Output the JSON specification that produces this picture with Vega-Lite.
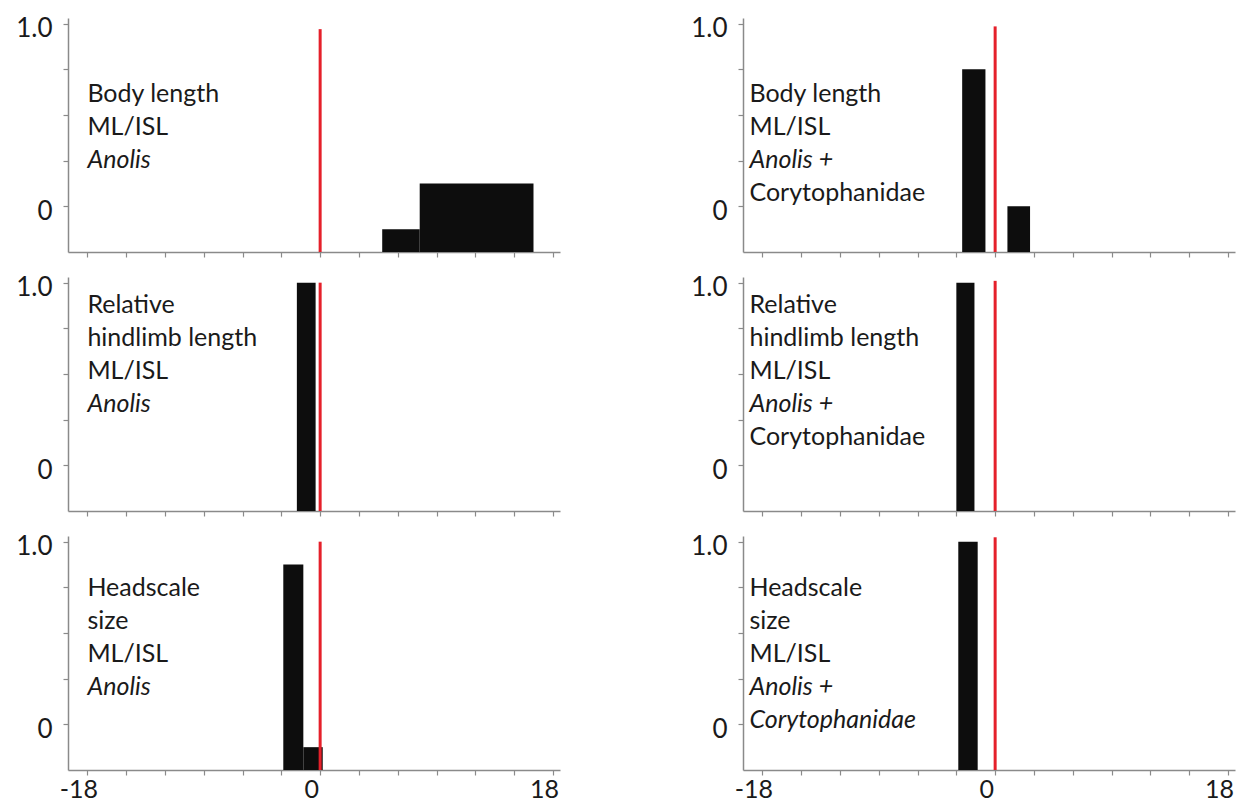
{
  "$schema": "https://vega.github.io/schema/vega-lite/v6.json",
  "background": "white",
  "padding": {"left": 15, "top": 15, "right": 5, "bottom": 0},
  "bounds": "flush",
  "columns": 2,
  "spacing": {"row": 25, "column": 183},
  "data": {
    "values": [
      {"panel": "A", "kind": "bar", "start": 4.8, "end": 7.7, "p": -0.125},
      {"panel": "A", "kind": "bar", "start": 7.7, "end": 16.5, "p": 0.125},
      {"panel": "B", "kind": "bar", "start": -2.55, "end": -0.75, "p": 0.75},
      {"panel": "B", "kind": "bar", "start": 0.95, "end": 2.7, "p": 0.0},
      {"panel": "C", "kind": "bar", "start": -1.8, "end": -0.35, "p": 1.0},
      {"panel": "D", "kind": "bar", "start": -3.0, "end": -1.6, "p": 1.0},
      {"panel": "E", "kind": "bar", "start": -2.85, "end": -1.3, "p": 0.875},
      {"panel": "E", "kind": "bar", "start": -1.3, "end": 0.2, "p": -0.125},
      {"panel": "F", "kind": "bar", "start": -2.85, "end": -1.35, "p": 1.0},
      {"panel": "A", "kind": "obs", "observed": 0, "reach": 0.97},
      {"panel": "B", "kind": "obs", "observed": 0, "reach": 0.985},
      {"panel": "C", "kind": "obs", "observed": 0, "reach": 1.0},
      {"panel": "D", "kind": "obs", "observed": 0, "reach": 1.01},
      {"panel": "E", "kind": "obs", "observed": 0, "reach": 1.0},
      {"panel": "F", "kind": "obs", "observed": 0, "reach": 1.024},
      {"panel": "A", "kind": "note", "line": 0, "text": "Body length", "taxon": false},
      {"panel": "A", "kind": "note", "line": 1, "text": "ML/ISL", "taxon": false},
      {"panel": "A", "kind": "note", "line": 2, "text": "Anolis", "taxon": true},
      {"panel": "B", "kind": "note", "line": 0, "text": "Body length", "taxon": false},
      {"panel": "B", "kind": "note", "line": 1, "text": "ML/ISL", "taxon": false},
      {"panel": "B", "kind": "note", "line": 2, "text": "Anolis +", "taxon": true},
      {"panel": "B", "kind": "note", "line": 3, "text": "Corytophanidae", "taxon": false},
      {"panel": "C", "kind": "note", "line": 0, "text": "Relative", "taxon": false},
      {"panel": "C", "kind": "note", "line": 1, "text": "hindlimb length", "taxon": false},
      {"panel": "C", "kind": "note", "line": 2, "text": "ML/ISL", "taxon": false},
      {"panel": "C", "kind": "note", "line": 3, "text": "Anolis", "taxon": true},
      {"panel": "D", "kind": "note", "line": 0, "text": "Relative", "taxon": false},
      {"panel": "D", "kind": "note", "line": 1, "text": "hindlimb length", "taxon": false},
      {"panel": "D", "kind": "note", "line": 2, "text": "ML/ISL", "taxon": false},
      {"panel": "D", "kind": "note", "line": 3, "text": "Anolis +", "taxon": true},
      {"panel": "D", "kind": "note", "line": 4, "text": "Corytophanidae", "taxon": false},
      {"panel": "E", "kind": "note", "line": 0, "text": "Headscale", "taxon": false},
      {"panel": "E", "kind": "note", "line": 1, "text": "size", "taxon": false},
      {"panel": "E", "kind": "note", "line": 2, "text": "ML/ISL", "taxon": false},
      {"panel": "E", "kind": "note", "line": 3, "text": "Anolis", "taxon": true},
      {"panel": "F", "kind": "note", "line": 0, "text": "Headscale", "taxon": false},
      {"panel": "F", "kind": "note", "line": 1, "text": "size", "taxon": false},
      {"panel": "F", "kind": "note", "line": 2, "text": "ML/ISL", "taxon": false},
      {"panel": "F", "kind": "note", "line": 3, "text": "Anolis +", "taxon": true},
      {"panel": "F", "kind": "note", "line": 4, "text": "Corytophanidae", "taxon": true}
    ]
  },
  "concat": [
    {
      "width": 492, "height": 234,
      "transform": [{"filter": "datum.panel == 'A'"}],
      "layer": [
        {"transform": [{"filter": "datum.kind == 'bar'"}], "mark": {"type": "bar", "color": "#0d0d0d"},
         "encoding": {
           "x": {"field": "start", "type": "quantitative", "scale": {"domain": [-19.5, 18.55], "nice": false, "zero": false}, "axis": {"values": [-18,-15,-12,-9,-6,-3,0,3,6,9,12,15,18], "labels": false}},
           "x2": {"field": "end"},
           "y": {"field": "p", "type": "quantitative", "scale": {"domain": [-0.25, 1.031], "nice": false, "zero": false}, "axis": {"values": [0, 0.25, 0.5, 0.75, 1], "labelExpr": "datum.value == 1 ? '1.0' : datum.value == 0 ? '0' : ''"}},
           "y2": {"datum": -0.25}}},
        {"transform": [{"filter": "datum.kind == 'obs'"}], "mark": {"type": "rule", "color": "#e5202a", "strokeWidth": 3},
         "encoding": {"x": {"field": "observed", "type": "quantitative"}, "y": {"field": "reach", "type": "quantitative"}, "y2": {"datum": -0.25}}},
        {"transform": [{"filter": "datum.kind == 'note' && !datum.taxon"}], "mark": {"type": "text", "align": "left", "baseline": "alphabetic", "font": "Lato", "fontSize": 25, "color": "#1a1a1a", "dy": {"expr": "datum.line * 32.8"}},
         "encoding": {"x": {"datum": -18}, "y": {"datum": 0.57}, "text": {"field": "text"}}},
        {"transform": [{"filter": "datum.kind == 'note' && datum.taxon"}], "mark": {"type": "text", "align": "left", "baseline": "alphabetic", "font": "Lato", "fontSize": 25, "fontStyle": "italic", "color": "#1a1a1a", "dy": {"expr": "datum.line * 32.8"}},
         "encoding": {"x": {"datum": -18}, "y": {"datum": 0.57}, "text": {"field": "text"}}}
      ]
    },
    {
      "width": 492, "height": 234,
      "transform": [{"filter": "datum.panel == 'B'"}],
      "layer": [
        {"transform": [{"filter": "datum.kind == 'bar'"}], "mark": {"type": "bar", "color": "#0d0d0d"},
         "encoding": {
           "x": {"field": "start", "type": "quantitative", "scale": {"domain": [-19.5, 18.55], "nice": false, "zero": false}, "axis": {"values": [-18,-15,-12,-9,-6,-3,0,3,6,9,12,15,18], "labels": false}},
           "x2": {"field": "end"},
           "y": {"field": "p", "type": "quantitative", "scale": {"domain": [-0.25, 1.031], "nice": false, "zero": false}, "axis": {"values": [0, 0.25, 0.5, 0.75, 1], "labelExpr": "datum.value == 1 ? '1.0' : datum.value == 0 ? '0' : ''"}},
           "y2": {"datum": -0.25}}},
        {"transform": [{"filter": "datum.kind == 'obs'"}], "mark": {"type": "rule", "color": "#e5202a", "strokeWidth": 3},
         "encoding": {"x": {"field": "observed", "type": "quantitative"}, "y": {"field": "reach", "type": "quantitative"}, "y2": {"datum": -0.25}}},
        {"transform": [{"filter": "datum.kind == 'note' && !datum.taxon"}], "mark": {"type": "text", "align": "left", "baseline": "alphabetic", "font": "Lato", "fontSize": 25, "color": "#1a1a1a", "dy": {"expr": "datum.line * 32.8"}},
         "encoding": {"x": {"datum": -19}, "y": {"datum": 0.57}, "text": {"field": "text"}}},
        {"transform": [{"filter": "datum.kind == 'note' && datum.taxon"}], "mark": {"type": "text", "align": "left", "baseline": "alphabetic", "font": "Lato", "fontSize": 25, "fontStyle": "italic", "color": "#1a1a1a", "dy": {"expr": "datum.line * 32.8"}},
         "encoding": {"x": {"datum": -19}, "y": {"datum": 0.57}, "text": {"field": "text"}}}
      ]
    },
    {
      "width": 492, "height": 234,
      "transform": [{"filter": "datum.panel == 'C'"}],
      "layer": [
        {"transform": [{"filter": "datum.kind == 'bar'"}], "mark": {"type": "bar", "color": "#0d0d0d"},
         "encoding": {
           "x": {"field": "start", "type": "quantitative", "scale": {"domain": [-19.5, 18.55], "nice": false, "zero": false}, "axis": {"values": [-18,-15,-12,-9,-6,-3,0,3,6,9,12,15,18], "labels": false}},
           "x2": {"field": "end"},
           "y": {"field": "p", "type": "quantitative", "scale": {"domain": [-0.25, 1.031], "nice": false, "zero": false}, "axis": {"values": [0, 0.25, 0.5, 0.75, 1], "labelExpr": "datum.value == 1 ? '1.0' : datum.value == 0 ? '0' : ''"}},
           "y2": {"datum": -0.25}}},
        {"transform": [{"filter": "datum.kind == 'obs'"}], "mark": {"type": "rule", "color": "#e5202a", "strokeWidth": 3},
         "encoding": {"x": {"field": "observed", "type": "quantitative"}, "y": {"field": "reach", "type": "quantitative"}, "y2": {"datum": -0.25}}},
        {"transform": [{"filter": "datum.kind == 'note' && !datum.taxon"}], "mark": {"type": "text", "align": "left", "baseline": "alphabetic", "font": "Lato", "fontSize": 25, "color": "#1a1a1a", "dy": {"expr": "datum.line * 32.8"}},
         "encoding": {"x": {"datum": -18}, "y": {"datum": 0.832}, "text": {"field": "text"}}},
        {"transform": [{"filter": "datum.kind == 'note' && datum.taxon"}], "mark": {"type": "text", "align": "left", "baseline": "alphabetic", "font": "Lato", "fontSize": 25, "fontStyle": "italic", "color": "#1a1a1a", "dy": {"expr": "datum.line * 32.8"}},
         "encoding": {"x": {"datum": -18}, "y": {"datum": 0.832}, "text": {"field": "text"}}}
      ]
    },
    {
      "width": 492, "height": 234,
      "transform": [{"filter": "datum.panel == 'D'"}],
      "layer": [
        {"transform": [{"filter": "datum.kind == 'bar'"}], "mark": {"type": "bar", "color": "#0d0d0d"},
         "encoding": {
           "x": {"field": "start", "type": "quantitative", "scale": {"domain": [-19.5, 18.55], "nice": false, "zero": false}, "axis": {"values": [-18,-15,-12,-9,-6,-3,0,3,6,9,12,15,18], "labels": false}},
           "x2": {"field": "end"},
           "y": {"field": "p", "type": "quantitative", "scale": {"domain": [-0.25, 1.031], "nice": false, "zero": false}, "axis": {"values": [0, 0.25, 0.5, 0.75, 1], "labelExpr": "datum.value == 1 ? '1.0' : datum.value == 0 ? '0' : ''"}},
           "y2": {"datum": -0.25}}},
        {"transform": [{"filter": "datum.kind == 'obs'"}], "mark": {"type": "rule", "color": "#e5202a", "strokeWidth": 3},
         "encoding": {"x": {"field": "observed", "type": "quantitative"}, "y": {"field": "reach", "type": "quantitative"}, "y2": {"datum": -0.25}}},
        {"transform": [{"filter": "datum.kind == 'note' && !datum.taxon"}], "mark": {"type": "text", "align": "left", "baseline": "alphabetic", "font": "Lato", "fontSize": 25, "color": "#1a1a1a", "dy": {"expr": "datum.line * 32.8"}},
         "encoding": {"x": {"datum": -19}, "y": {"datum": 0.832}, "text": {"field": "text"}}},
        {"transform": [{"filter": "datum.kind == 'note' && datum.taxon"}], "mark": {"type": "text", "align": "left", "baseline": "alphabetic", "font": "Lato", "fontSize": 25, "fontStyle": "italic", "color": "#1a1a1a", "dy": {"expr": "datum.line * 32.8"}},
         "encoding": {"x": {"datum": -19}, "y": {"datum": 0.832}, "text": {"field": "text"}}}
      ]
    },
    {
      "width": 492, "height": 234,
      "transform": [{"filter": "datum.panel == 'E'"}],
      "layer": [
        {"transform": [{"filter": "datum.kind == 'bar'"}], "mark": {"type": "bar", "color": "#0d0d0d"},
         "encoding": {
           "x": {"field": "start", "type": "quantitative", "scale": {"domain": [-19.5, 18.55], "nice": false, "zero": false}, "axis": {"values": [-18,-15,-12,-9,-6,-3,0,3,6,9,12,15,18], "labelExpr": "datum.value == -18 ? '-18' : datum.value == 0 ? '0' : datum.value == 18 ? '18' : ''"}},
           "x2": {"field": "end"},
           "y": {"field": "p", "type": "quantitative", "scale": {"domain": [-0.25, 1.031], "nice": false, "zero": false}, "axis": {"values": [0, 0.25, 0.5, 0.75, 1], "labelExpr": "datum.value == 1 ? '1.0' : datum.value == 0 ? '0' : ''"}},
           "y2": {"datum": -0.25}}},
        {"transform": [{"filter": "datum.kind == 'obs'"}], "mark": {"type": "rule", "color": "#e5202a", "strokeWidth": 3},
         "encoding": {"x": {"field": "observed", "type": "quantitative"}, "y": {"field": "reach", "type": "quantitative"}, "y2": {"datum": -0.25}}},
        {"transform": [{"filter": "datum.kind == 'note' && !datum.taxon"}], "mark": {"type": "text", "align": "left", "baseline": "alphabetic", "font": "Lato", "fontSize": 25, "color": "#1a1a1a", "dy": {"expr": "datum.line * 32.8"}},
         "encoding": {"x": {"datum": -18}, "y": {"datum": 0.70}, "text": {"field": "text"}}},
        {"transform": [{"filter": "datum.kind == 'note' && datum.taxon"}], "mark": {"type": "text", "align": "left", "baseline": "alphabetic", "font": "Lato", "fontSize": 25, "fontStyle": "italic", "color": "#1a1a1a", "dy": {"expr": "datum.line * 32.8"}},
         "encoding": {"x": {"datum": -18}, "y": {"datum": 0.70}, "text": {"field": "text"}}}
      ]
    },
    {
      "width": 492, "height": 234,
      "transform": [{"filter": "datum.panel == 'F'"}],
      "layer": [
        {"transform": [{"filter": "datum.kind == 'bar'"}], "mark": {"type": "bar", "color": "#0d0d0d"},
         "encoding": {
           "x": {"field": "start", "type": "quantitative", "scale": {"domain": [-19.5, 18.55], "nice": false, "zero": false}, "axis": {"values": [-18,-15,-12,-9,-6,-3,0,3,6,9,12,15,18], "labelExpr": "datum.value == -18 ? '-18' : datum.value == 0 ? '0' : datum.value == 18 ? '18' : ''"}},
           "x2": {"field": "end"},
           "y": {"field": "p", "type": "quantitative", "scale": {"domain": [-0.25, 1.031], "nice": false, "zero": false}, "axis": {"values": [0, 0.25, 0.5, 0.75, 1], "labelExpr": "datum.value == 1 ? '1.0' : datum.value == 0 ? '0' : ''"}},
           "y2": {"datum": -0.25}}},
        {"transform": [{"filter": "datum.kind == 'obs'"}], "mark": {"type": "rule", "color": "#e5202a", "strokeWidth": 3},
         "encoding": {"x": {"field": "observed", "type": "quantitative"}, "y": {"field": "reach", "type": "quantitative"}, "y2": {"datum": -0.25}}},
        {"transform": [{"filter": "datum.kind == 'note' && !datum.taxon"}], "mark": {"type": "text", "align": "left", "baseline": "alphabetic", "font": "Lato", "fontSize": 25, "color": "#1a1a1a", "dy": {"expr": "datum.line * 32.8"}},
         "encoding": {"x": {"datum": -19}, "y": {"datum": 0.70}, "text": {"field": "text"}}},
        {"transform": [{"filter": "datum.kind == 'note' && datum.taxon"}], "mark": {"type": "text", "align": "left", "baseline": "alphabetic", "font": "Lato", "fontSize": 25, "fontStyle": "italic", "color": "#1a1a1a", "dy": {"expr": "datum.line * 32.8"}},
         "encoding": {"x": {"datum": -19}, "y": {"datum": 0.70}, "text": {"field": "text"}}}
      ]
    }
  ],
  "config": {
    "view": {"stroke": null},
    "axis": {"grid": false, "title": null, "domainColor": "#8a8a8a", "domainWidth": 1.5, "tickColor": "#8a8a8a", "tickWidth": 1.2, "tickSize": 5, "labelFont": "Lato", "labelColor": "#1a1a1a", "labelOverlap": false},
    "axisX": {"labelFontSize": 25, "labelPadding": 2, "labelOffset": -9, "labelFlush": false},
    "axisY": {"labelFontSize": 26, "labelPadding": 11, "labelOffset": 5}
  }
}
